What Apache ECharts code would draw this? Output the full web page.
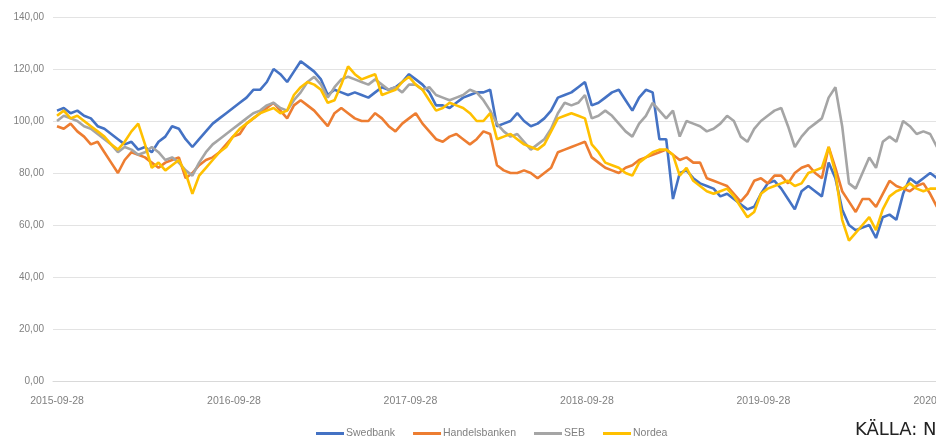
<!DOCTYPE html>
<html>
<head>
<meta charset="utf-8">
<script src="https://cdn.jsdelivr.net/npm/echarts@6/dist/echarts.min.js"></script>
<style>html,body{margin:0;padding:0;background:#fff;}#c{width:936px;height:439px;}</style>
</head>
<body>
<div id="c"></div>
<script>
// Sample dates: every 14 days from 2015-09-28
const startDate = '2015-09-28';
const stepDays = 14;
const pointCount = 131;
const tickLabelDates = ['2015-09-28','2016-09-28','2017-09-28','2018-09-28','2019-09-28','2020-09-28'];
const yTicks = [0,20,40,60,80,100,120,140];
const seriesNames = ['Swedbank','Handelsbanken','SEB','Nordea'];

const swedbank = [104,105,103,104,102,101,98,97,95,93,91,92,89,90,88,92,94,98,97,93,
  90,93,96,99,101,103,105,107,109,112,112,115,120,118,115,119,123,121,119,116,
  110,112,111,110,111,110,109,111,113,112,113,115,118,116,114,111,106,106,105,107,
  109,110,111,111,112,98,99,100,103,100,98,99,101,104,109,110,111,113,115,106,
  107,109,111,112,108,104,109,112,111,93,93,70,80,81,78,76,75,74,71,72,
  70,68,66,67,72,76,77,74,70,66,73,75,73,71,84,78,66,60,58,59,
  60,55,63,64,62,72,78,76,78,80,78];
const handelsbanken = [98,97,99,96,94,91,92,88,84,80,85,88,87,86,84,82,84,85,86,78,
  80,83,85,86,88,91,94,95,99,101,103,105,107,104,101,106,108,106,104,101,
  98,103,105,103,101,100,100,103,101,98,96,99,101,103,99,96,93,92,94,95,
  93,91,93,96,95,83,81,80,80,81,80,78,80,82,88,89,90,91,92,86,
  84,82,81,80,82,83,85,86,87,88,89,87,85,86,84,84,78,77,76,75,
  72,69,72,77,78,76,79,79,76,80,82,83,80,78,90,82,73,69,65,70,
  70,67,72,77,75,74,73,75,76,72,67];
const seb = [100,102,101,100,98,97,95,93,91,88,90,89,87,88,90,88,85,86,84,81,
  79,84,88,91,93,95,97,99,101,103,104,106,107,105,104,108,111,115,117,114,
  109,113,116,117,116,115,114,116,114,112,113,111,114,114,112,113,110,109,108,109,
  110,112,111,108,104,99,96,94,95,92,89,91,93,97,103,107,106,107,110,101,
  102,104,102,99,96,94,99,102,107,104,101,104,94,100,99,98,96,97,99,102,
  100,94,92,97,100,102,104,105,98,90,94,97,99,101,109,113,98,76,74,80,
  86,82,92,94,92,100,98,95,96,95,90];
const nordea = [102,104,101,102,100,98,96,94,91,89,92,96,99,91,82,84,81,83,85,80,
  72,79,82,85,88,90,94,97,99,101,103,104,105,103,104,110,113,115,114,112,
  107,108,114,121,118,116,117,118,110,111,112,115,117,114,112,108,104,105,107,106,
  105,103,100,100,103,93,94,95,93,91,90,89,91,96,101,102,103,102,101,91,
  88,84,83,82,80,79,84,86,88,89,89,87,79,82,77,75,73,72,73,74,
  71,67,63,65,72,74,75,76,77,75,76,80,81,82,90,80,62,54,57,60,
  63,58,66,71,73,74,76,74,73,74,74];
const seriesValues = [swedbank, handelsbanken, seb, nordea];
const colors = ['#4472C4','#ED7D31','#A5A5A5','#FFC000'];

const DAY = 86400000;
const t0 = Date.UTC(2015, 8, 28);
function daysOf(s){ const p = s.split('-').map(Number); return Math.round((Date.UTC(p[0],p[1]-1,p[2]) - t0)/DAY); }
function dateOf(d){ const t = new Date(t0 + Math.round(d)*DAY); const m = t.getUTCMonth()+1, dd = t.getUTCDate(); return t.getUTCFullYear()+'-'+(m<10?'0':'')+m+'-'+(dd<10?'0':'')+dd; }
const dates = [];
for (let i = 0; i < pointCount; i++) dates.push(dateOf(daysOf(startDate) + i*stepDays));
const labelDays = tickLabelDates.map(daysOf);
const labelMap = {}; labelDays.forEach((d,i)=>{ labelMap[d] = tickLabelDates[i]; });

const chart = echarts.init(document.getElementById('c'), null, {renderer:'canvas'});
chart.setOption({
  animation: false,
  backgroundColor: '#fff',
  color: colors,
  grid: { left: 53, top: 17, width: 893.6, height: 364, outerBoundsMode: 'none', containLabel: false },
  xAxis: {
    type: 'value', min: -8.3, max: 1840,
    axisLine: { show: true, lineStyle: { color: '#d9d9d9' } },
    axisTick: { show: false },
    splitLine: { show: false },
    axisLabel: {
      customValues: labelDays, showMinLabel: true, showMaxLabel: true, hideOverlap: false,
      margin: 15, color: '#808080', fontSize: 10.5, fontFamily: 'Liberation Sans',
      formatter: v => labelMap[Math.round(v)] || dateOf(v)
    }
  },
  yAxis: {
    type: 'value', min: yTicks[0], max: yTicks[yTicks.length-1], interval: 20,
    axisLine: { show: false }, axisTick: { show: false },
    splitLine: { lineStyle: { color: '#e3e3e3', width: 1 } },
    axisLabel: { margin: 9, color: '#808080', fontSize: 10, fontFamily: 'Liberation Sans',
      formatter: v => v.toFixed(2).replace('.', ',') }
  },
  legend: {
    left: 311, top: 423,
    icon: 'rect', itemWidth: 28, itemHeight: 3, itemGap: 18,
    textStyle: { color: '#808080', fontSize: 10.5, fontFamily: 'Liberation Sans', padding: [0,0,0,-3] },
    data: seriesNames
  },
  series: seriesNames.map((name, k) => ({
    name, type: 'line', symbol: 'none', showSymbol: false,
    lineStyle: { width: 2.6, color: colors[k] },
    data: seriesValues[k].map((v, i) => [daysOf(dates[i]), v]),
    z: 2 + k
  })),
  graphic: [{
    type: 'text', left: 855, top: 421,
    style: { text: 'KÄLLA: NASDAQ', fill: '#222', font: '18px "DejaVu Sans"' }
  }]
});
</script>
</body>
</html>
